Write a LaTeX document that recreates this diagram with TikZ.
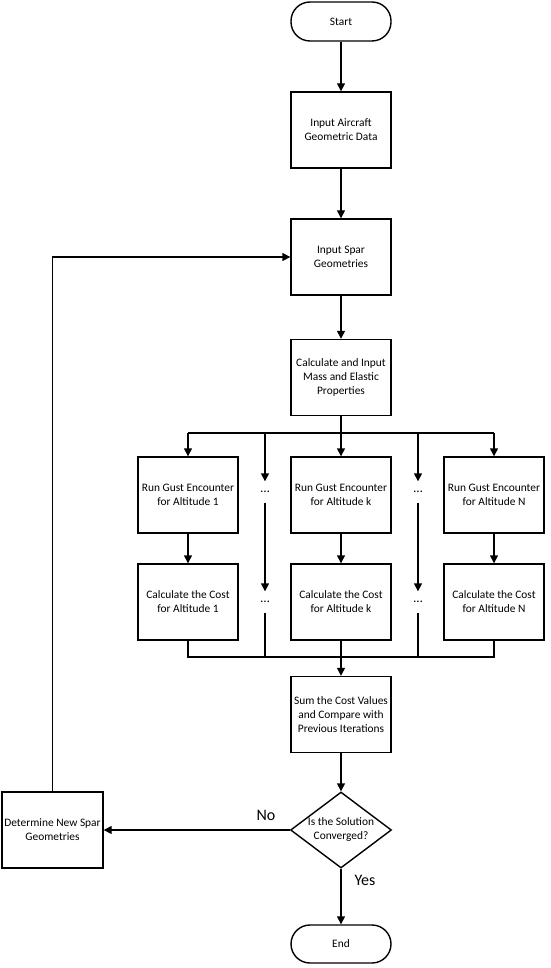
\documentclass[tikz,border=0pt]{standalone}
\usepackage{fontspec}
\setmainfont{Carlito}
\usetikzlibrary{shapes.geometric,arrows.meta,calc}
\begin{document}
\begin{tikzpicture}[x=1pt,y=-1pt,
  line width=1.4pt,
  every node/.style={font=\fontsize{11.4}{14}\selectfont},
  arr/.style={-{Triangle[length=8pt,width=8pt]}},
  box/.style={draw,line width=1.4pt,minimum width=100pt,minimum height=76pt,inner sep=0pt,align=center},
  term/.style={draw,line width=1.4pt,minimum width=100pt,minimum height=39pt,inner sep=0pt,rounded corners=19pt},
  dotn/.style={inner sep=0pt,minimum height=20pt,minimum width=12pt,font=\fontsize{13}{14}\selectfont},
  lab/.style={font=\fontsize{16}{18}\selectfont}]
\useasboundingbox (0,0) rectangle (550,968);
\node[term] (start) at (341,21.5) {Start};
\node[box] (input) at (341,130) {Input Aircraft\\Geometric Data};
\node[box] (spar) at (341,257) {Input Spar\\Geometries};
\node[box] (calc) at (341,377.5) {Calculate and Input\\Mass and Elastic\\Properties};
\node[box] (r1) at (188,495) {Run Gust Encounter\\for Altitude 1};
\node[box] (rk) at (341,495) {Run Gust Encounter\\for Altitude k};
\node[box] (rN) at (494,495) {Run Gust Encounter\\for Altitude N};
\node[box] (c1) at (188,602) {Calculate the Cost\\for Altitude 1};
\node[box] (ck) at (341,602) {Calculate the Cost\\for Altitude k};
\node[box] (cN) at (494,602) {Calculate the Cost\\for Altitude N};
\node[box] (sum) at (341,714.5) {Sum the Cost Values\\and Compare with\\Previous Iterations};
\node[draw,diamond,line width=1.4pt,aspect=1.33,minimum width=101pt,minimum height=76pt,inner sep=0pt] (dec) at (341,830) {};
\node[align=center] (dect) at (dec.center) {Is the Solution\\Converged?};
\node[box,minimum width=101pt] (det) at (52.5,830) {Determine New Spar\\Geometries};
\node[term,minimum height=38pt] (end) at (341,944) {End};
\node[lab] (no) at (266,815) {No};
\node[lab] (yes) at (365,880) {Yes};
\node[dotn] (da) at (265,492) {\dots};
\node[dotn] (db) at (265,602) {\dots};
\node[dotn] (dc) at (418,492) {\dots};
\node[dotn] (dd) at (418,602) {\dots};
\coordinate (tb) at (341,433);
\coordinate (bb) at (341,657);
\draw[arr] (start) -- (input);
\draw[arr] (input) -- (spar);
\draw[arr] (spar) -- (calc);
\draw (calc.south) -- (tb);
\draw (r1.north |- tb) -- (rN.north |- tb);
\draw[arr] (r1.north |- tb) -- (r1.north);
\draw[arr] (tb) -- (rk.north);
\draw[arr] (rN.north |- tb) -- (rN.north);
\draw[arr] (da |- tb) -- (da.north);
\draw[arr] (dc |- tb) -- (dc.north);
\draw[arr] (r1) -- (c1);
\draw[arr] (rk) -- (ck);
\draw[arr] (rN) -- (cN);
\draw[arr] (da) -- (db);
\draw[arr] (dc) -- (dd);
\draw (c1.south) -- (c1.south |- bb) -- (cN.south |- bb) -- (cN.south);
\draw (ck.south) -- (bb);
\draw (db.south) -- (db |- bb);
\draw (dd.south) -- (dd |- bb);
\draw[arr] (bb) -- (sum.north);
\draw[arr] (sum) -- (dec);
\draw[arr] (dec) -- (det);
\draw[arr] (dec) -- (end);
\draw[arr] (det.north) |- (spar.west);
\end{tikzpicture}
\end{document}
